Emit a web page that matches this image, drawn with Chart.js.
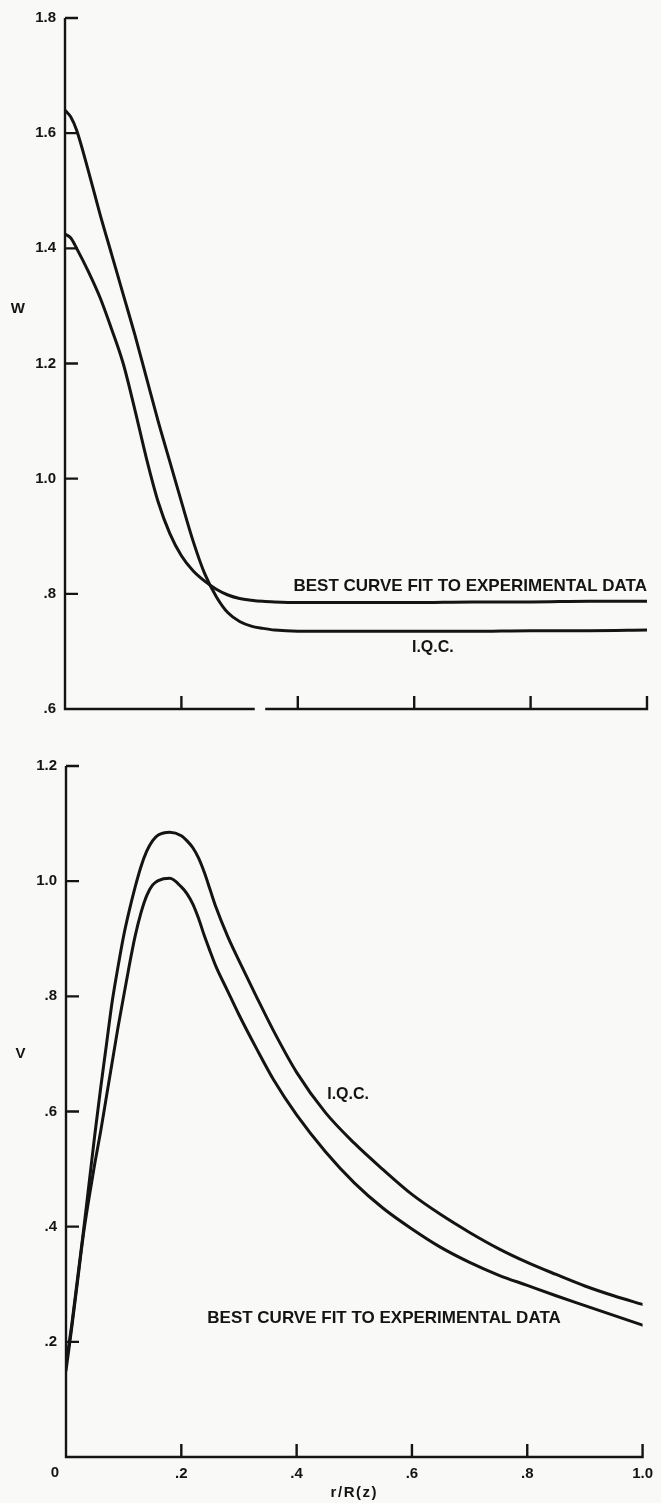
<!DOCTYPE html>
<html>
<head>
<meta charset="utf-8">
<script src="https://cdn.jsdelivr.net/npm/chart.js@4.4.1/dist/chart.umd.min.js"></script>
<style>
  html, body { margin: 0; padding: 0; background: #f9f9f7; }
  #wrap { position: relative; width: 661px; height: 1503px; overflow: hidden; }
  canvas { position: absolute; left: 0; }
  #chartW { top: 0; }
  #chartV { top: 740px; }
</style>
</head>
<body>
<div id="wrap">
  <canvas id="chartW" width="661" height="735"></canvas>
  <canvas id="chartV" width="661" height="763"></canvas>
</div>
<script>
// Radial position r/R(z) and the two W profiles
const rW = [0, 0.01, 0.02, 0.04, 0.06, 0.08, 0.10, 0.12, 0.14, 0.16, 0.18, 0.20, 0.22, 0.24, 0.26, 0.28, 0.30, 0.32, 0.34, 0.36, 0.40, 0.50, 0.60, 0.70, 0.80, 0.90, 1.00];
const wIQC = [1.64, 1.628, 1.605, 1.535, 1.46, 1.39, 1.32, 1.25, 1.175, 1.10, 1.03, 0.96, 0.892, 0.835, 0.795, 0.767, 0.752, 0.744, 0.740, 0.737, 0.735, 0.735, 0.735, 0.735, 0.736, 0.736, 0.737];
const wBestFit = [1.425, 1.418, 1.40, 1.36, 1.315, 1.26, 1.20, 1.12, 1.035, 0.96, 0.905, 0.866, 0.840, 0.822, 0.808, 0.798, 0.792, 0.789, 0.787, 0.786, 0.785, 0.785, 0.785, 0.786, 0.786, 0.787, 0.787];

// Radial position r/R(z) and the two V profiles
const rV = [0, 0.01, 0.02, 0.03, 0.04, 0.05, 0.06, 0.07, 0.08, 0.09, 0.10, 0.11, 0.12, 0.13, 0.14, 0.15, 0.16, 0.18, 0.20, 0.21, 0.22, 0.23, 0.24, 0.25, 0.26, 0.28, 0.30, 0.33, 0.36, 0.40, 0.45, 0.50, 0.55, 0.60, 0.65, 0.70, 0.75, 0.80, 0.85, 0.90, 0.95, 1.00];
const vIQC = [0.16, 0.23, 0.31, 0.39, 0.475, 0.56, 0.64, 0.715, 0.79, 0.85, 0.905, 0.95, 0.99, 1.025, 1.052, 1.07, 1.08, 1.085, 1.079, 1.07, 1.058, 1.04, 1.015, 0.985, 0.955, 0.905, 0.862, 0.80, 0.74, 0.668, 0.598, 0.545, 0.499, 0.456, 0.421, 0.390, 0.362, 0.338, 0.317, 0.297, 0.28, 0.265];
const vBestFit = [0.15, 0.225, 0.305, 0.385, 0.45, 0.51, 0.565, 0.625, 0.685, 0.745, 0.80, 0.855, 0.905, 0.945, 0.975, 0.993, 1.001, 1.005, 0.99, 0.978, 0.96, 0.935, 0.905, 0.878, 0.852, 0.81, 0.768, 0.71, 0.655, 0.594, 0.53, 0.476, 0.432, 0.396, 0.364, 0.338, 0.316, 0.298, 0.28, 0.263, 0.246, 0.229];

// Tick values
const rTicks = [0, 0.2, 0.4, 0.6, 0.8, 1.0];
const wTicks = [0.6, 0.8, 1.0, 1.2, 1.4, 1.6, 1.8];
const vTicks = [0, 0.2, 0.4, 0.6, 0.8, 1.0, 1.2];

const INK = '#141414';
const FONT = '"Liberation Sans", Arial, Helvetica, sans-serif';

const fmt = v => (v === 0 ? '0' : (v < 1 ? '.' + Math.round(v * 10) : v.toFixed(1)));
const pts = (xs, ys) => xs.map((x, i) => ({ x, y: ys[i] }));

// Axis frame with inward tick marks, optional break in the x axis, and text notes
const framePlugin = {
  id: 'frame',
  afterDatasetsDraw(chart, _args, o) {
    const { ctx, scales: { x, y } } = chart;
    const xl = x.getPixelForValue(x.min);
    const yt = y.getPixelForValue(y.max);
    const yb = y.getPixelForValue(y.min);
    ctx.save();
    ctx.strokeStyle = INK;
    ctx.lineWidth = 2.4;
    ctx.beginPath();
    ctx.moveTo(xl, yt);
    ctx.lineTo(xl, yb + 1.2);
    const segs = o.gap ? [[x.min, o.gap[0]], [o.gap[1], x.max]] : [[x.min, x.max]];
    segs.forEach(([a, b]) => {
      ctx.moveTo(x.getPixelForValue(a) - (a === x.min ? 1.2 : 0), yb);
      ctx.lineTo(x.getPixelForValue(b) + (b === x.max ? 1.2 : 0), yb);
    });
    y.ticks.forEach(t => {
      if (t.value === y.min) return;
      const py = y.getPixelForValue(t.value);
      ctx.moveTo(xl, py);
      ctx.lineTo(xl + o.tick, py);
    });
    x.ticks.forEach(t => {
      if (t.value === x.min) return;
      const px = x.getPixelForValue(t.value);
      ctx.moveTo(px, yb);
      ctx.lineTo(px, yb - o.tick);
    });
    ctx.stroke();
    (o.notes || []).forEach(n => {
      ctx.font = n.font;
      ctx.fillStyle = INK;
      ctx.textAlign = n.align || 'center';
      ctx.textBaseline = 'middle';
      if ('letterSpacing' in ctx) ctx.letterSpacing = n.spacing || '0px';
      ctx.fillText(n.text, x.getPixelForValue(n.x), y.getPixelForValue(n.y));
    });
    ctx.restore();
  }
};

function makeChart(id, cfg) {
  const line = (data) => ({
    data,
    borderColor: INK,
    borderWidth: 3,
    pointRadius: 0,
    cubicInterpolationMode: 'monotone',
    borderJoinStyle: 'round',
    borderCapStyle: 'round',
    fill: false
  });
  return new Chart(document.getElementById(id), {
    type: 'line',
    data: { datasets: [line(cfg.iqc), line(cfg.best)] },
    options: {
      responsive: false,
      animation: false,
      devicePixelRatio: 1,
      layout: { padding: cfg.padding },
      plugins: {
        legend: { display: false },
        tooltip: { enabled: false },
        frame: { tick: 13, gap: cfg.gap, notes: cfg.notes }
      },
      scales: {
        x: {
          type: 'linear',
          min: 0,
          max: 1,
          afterBuildTicks: s => { s.ticks = rTicks.map(value => ({ value })); },
          afterFit: s => { s.height = cfg.xHeight; },
          grid: { display: false, drawTicks: false },
          border: { display: false },
          ticks: {
            display: cfg.xLabels,
            padding: 8,
            color: INK,
            font: { family: FONT, size: 15, weight: 'bold' },
            callback: v => (v === 0 ? '' : fmt(v))
          }
        },
        y: {
          type: 'linear',
          min: cfg.yTicks[0],
          max: cfg.yTicks[cfg.yTicks.length - 1],
          afterBuildTicks: s => { s.ticks = cfg.yTicks.map(value => ({ value })); },
          afterFit: s => { s.width = cfg.yWidth; },
          grid: { display: false, drawTicks: false },
          border: { display: false },
          ticks: {
            padding: 9,
            color: INK,
            font: { family: FONT, size: 15, weight: 'bold' },
            callback: v => (v === 0 ? '' : fmt(v))
          }
        }
      }
    },
    plugins: [framePlugin]
  });
}

const noteFont = `bold 17px ${FONT}`;

makeChart('chartW', {
  iqc: pts(rW, wIQC),
  best: pts(rW, wBestFit),
  yTicks: wTicks,
  xLabels: false,
  padding: { left: 0, right: 14, top: 17, bottom: 0 },
  yWidth: 65,
  xHeight: 26,
  gap: [0.326, 0.344],
  notes: [
    { text: 'W', x: -0.081, y: 1.295, font: `bold 15px ${FONT}` },
    { text: 'BEST CURVE FIT TO EXPERIMENTAL DATA', x: 1.0, y: 0.813, align: 'right', font: noteFont },
    { text: 'I.Q.C.', x: 0.632, y: 0.707, font: `bold 16px ${FONT}` }
  ]
});

makeChart('chartV', {
  iqc: pts(rV, vIQC),
  best: pts(rV, vBestFit),
  yTicks: vTicks,
  xLabels: true,
  padding: { left: 0, right: 12, top: 26, bottom: 0 },
  yWidth: 66,
  xHeight: 46,
  gap: null,
  notes: [
    { text: 'V', x: -0.079, y: 0.70, font: `bold 15px ${FONT}` },
    { text: 'I.Q.C.', x: 0.453, y: 0.629, align: 'left', font: `bold 16px ${FONT}` },
    { text: 'BEST CURVE FIT TO EXPERIMENTAL DATA', x: 0.245, y: 0.241, align: 'left', font: noteFont },
    { text: '0', x: -0.019, y: -0.028, font: `bold 15px ${FONT}` },
    { text: 'r/R(z)', x: 0.5, y: -0.0625, font: `bold 15px ${FONT}`, spacing: '1.5px' }
  ]
});
</script>
</body>
</html>
